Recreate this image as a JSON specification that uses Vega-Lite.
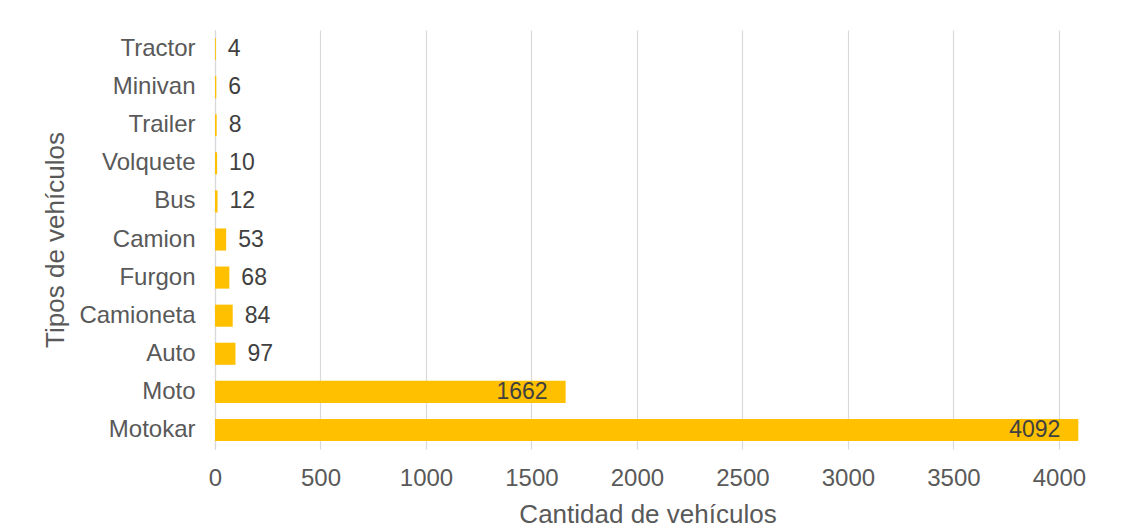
{
  "$schema": "https://vega.github.io/schema/vega-lite/v6.json",
  "autosize": {"type": "none"},
  "padding": {"left": 215, "top": 30, "right": 52, "bottom": 82},
  "width": 865,
  "height": 419,
  "background": "white",
  "config": {
    "font": "Liberation Sans",
    "view": {"stroke": null},
    "axis": {
      "labelFont": "Liberation Sans",
      "titleFont": "Liberation Sans",
      "labelColor": "#595959",
      "titleColor": "#595959",
      "labelFontSize": 24,
      "titleFontSize": 26,
      "titleFontWeight": "normal",
      "ticks": false,
      "gridColor": "#D9D9D9",
      "gridWidth": 1.2
    }
  },
  "data": {
    "values": [
      {"tipo": "Tractor", "cantidad": 4},
      {"tipo": "Minivan", "cantidad": 6},
      {"tipo": "Trailer", "cantidad": 8},
      {"tipo": "Volquete", "cantidad": 10},
      {"tipo": "Bus", "cantidad": 12},
      {"tipo": "Camion", "cantidad": 53},
      {"tipo": "Furgon", "cantidad": 68},
      {"tipo": "Camioneta", "cantidad": 84},
      {"tipo": "Auto", "cantidad": 97},
      {"tipo": "Moto", "cantidad": 1662},
      {"tipo": "Motokar", "cantidad": 4092}
    ]
  },
  "encoding": {
    "y": {
      "field": "tipo",
      "type": "nominal",
      "sort": null,
      "scale": {"paddingInner": 0.42, "paddingOuter": 0.21},
      "axis": {
        "title": "Tipos de vehículos",
        "labelPadding": 20,
        "titlePadding": 10,
        "domainColor": "#D9D9D9",
        "domainWidth": 1.2,
        "grid": false
      }
    },
    "x": {
      "field": "cantidad",
      "type": "quantitative",
      "scale": {"domain": [0, 4100], "nice": false},
      "axis": {
        "title": "Cantidad de vehículos",
        "values": [0, 500, 1000, 1500, 2000, 2500, 3000, 3500, 4000],
        "format": "d",
        "labelFlush": false,
        "labelPadding": 17,
        "titlePadding": 11,
        "domain": false,
        "grid": true
      }
    }
  },
  "layer": [
    {"mark": {"type": "bar", "color": "#FFC000"}},
    {
      "transform": [{"filter": "datum.cantidad < 1000"}],
      "mark": {"type": "text", "align": "left", "baseline": "middle", "dx": 12, "fontSize": 23, "color": "#404040"},
      "encoding": {"text": {"field": "cantidad", "type": "quantitative"}}
    },
    {
      "transform": [{"filter": "datum.cantidad >= 1000"}],
      "mark": {"type": "text", "align": "right", "baseline": "middle", "dx": -18, "fontSize": 23, "color": "#404040"},
      "encoding": {"text": {"field": "cantidad", "type": "quantitative", "format": "d"}}
    }
  ]
}
